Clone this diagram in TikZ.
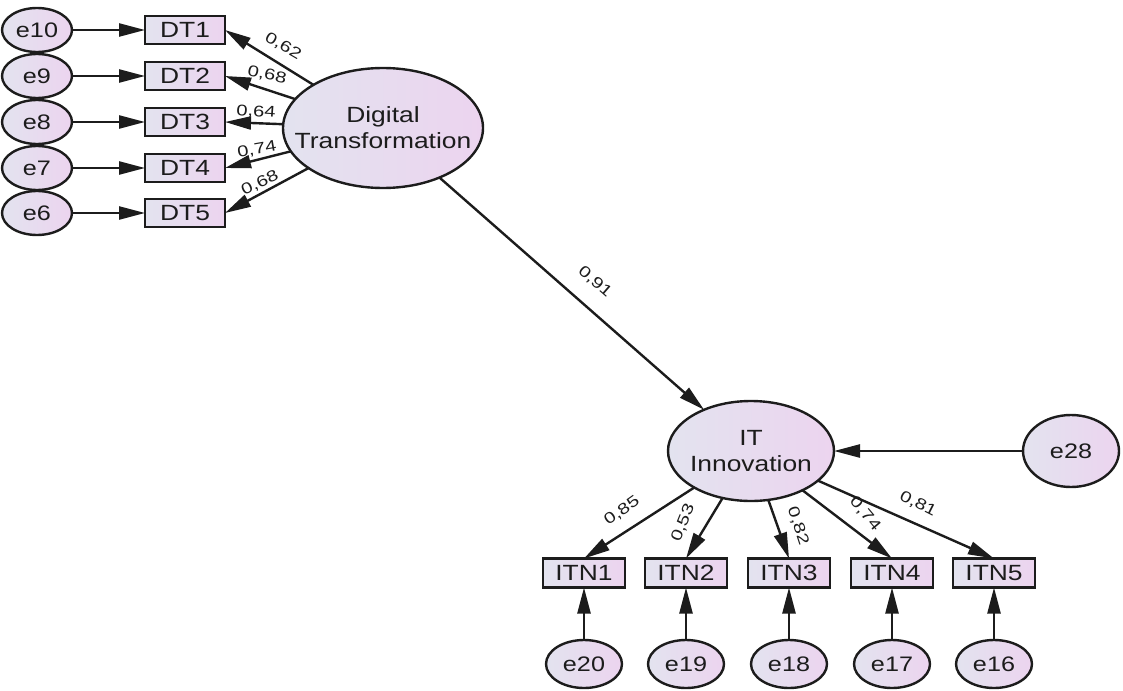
\documentclass[tikz,border=0pt]{standalone}
\usepackage{fontspec}
\setmainfont[FakeStretch=1.2]{Liberation Sans}
\newfontfamily\coeffont[FakeStretch=1.3]{Liberation Sans}
\usetikzlibrary{arrows.meta,shapes.geometric}
\definecolor{shadeL}{HTML}{E3E3EF}
\definecolor{shadeR}{HTML}{ECD4EF}
\definecolor{ink}{HTML}{1C1C1C}

\begin{document}
\begin{tikzpicture}[x=1pt,y=-1pt,
  every node/.style={inner sep=0pt, outer sep=0pt, text=ink},
  obs/.style={draw=ink, line width=2.4pt, rectangle, minimum width=80pt, minimum height=28pt,
    left color=shadeL, right color=shadeR, font=\fontsize{22}{22}\selectfont},
  itn/.style={obs, minimum width=82pt, minimum height=29pt},
  err/.style={draw=ink, line width=2.4pt, ellipse, minimum width=70pt, minimum height=44pt,
    left color=shadeL, right color=shadeR, font=\fontsize{21}{21}\selectfont},
  errb/.style={err, minimum width=76pt, minimum height=48pt},
  lat/.style={draw=ink, line width=2.4pt, ellipse, left color=shadeL, right color=shadeR},
  latlabel/.style={align=center, font=\fontsize{22}{26}\selectfont},
  path/.style={draw=ink, line width=2.4pt, -{Triangle[length=26pt,width=13pt]}},
  coef/.style={font=\coeffont\fontsize{15.5}{15.5}\selectfont}]

\clip (0,0) rectangle (1123,690);

% latent variables
\node[lat, minimum width=200pt, minimum height=120pt,
  label={[latlabel, name=DTtxt]center:Digital\\Transformation}] (DT) at (383,128) {};
\node[lat, minimum width=166pt, minimum height=100pt,
  label={[latlabel, name=ITtxt]center:IT\\Innovation}] (IT) at (751,451) {};

% indicators of Digital Transformation and their errors
\foreach \i/\e/\y in {1/10/30, 2/9/76, 3/8/122, 4/7/168, 5/6/213} {
  \node[obs] (DT\i) at (185,\y) {DT\i};
  \node[err] (e\e) at (37,\y) {e\e};
  \draw[path] (e\e) -- (DT\i);
  \draw[path] (DT) -- (DT\i.east);
}

% indicators of IT Innovation and their errors
\foreach \i/\e/\x in {1/20/584, 2/19/686, 3/18/789, 4/17/892, 5/16/994} {
  \node[itn] (ITN\i) at (\x,573) {ITN\i};
  \node[errb] (e\e) at (\x,664) {e\e};
  \draw[path] (e\e) -- (ITN\i);
  \draw[path] (IT) -- (ITN\i.north);
}

% structural path and disturbance
\node[err, minimum width=96pt, minimum height=72pt] (e28) at (1071,451) {e28};
\draw[path] (DT) -- (IT);
\draw[path] (e28) -- (IT);

% standardized coefficients
\node[coef, rotate=-30] (c1) at (283,46) {0,62};
\node[coef, rotate=-12] (c2) at (267,75) {0,68};
\node[coef, rotate=-4]  (c3) at (256,112) {0,64};
\node[coef, rotate=10]  (c4) at (257,150) {0,74};
\node[coef, rotate=25]  (c5) at (260,183) {0,68};
\node[coef, rotate=-41] (c6) at (595,282) {0,91};
\node[coef, rotate=35]  (c7) at (622,511) {0,85};
\node[coef, rotate=68]  (c8) at (683,523) {0,53};
\node[coef, rotate=-72] (c9) at (798,526) {0,82};
\node[coef, rotate=-50] (c10) at (865,514) {0,74};
\node[coef, rotate=-27] (c11) at (918,504) {0,81};
\end{tikzpicture}
\end{document}
